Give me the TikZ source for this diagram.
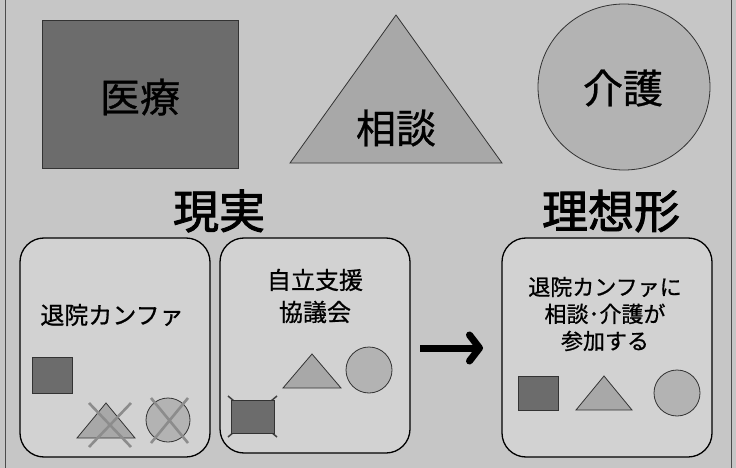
\documentclass[tikz,border=0pt]{standalone}
\usepackage{fontspec}
\newfontfamily\jp[FakeBold=0.8]{Noto Sans CJK JP}
\newfontfamily\jpb[FakeBold=2]{Noto Sans CJK JP}
\usetikzlibrary{arrows.meta}
\definecolor{bg}{HTML}{C6C6C6}
\definecolor{boxfill}{HTML}{D2D2D2}
\definecolor{dark}{HTML}{6C6C6C}
\definecolor{trifill}{HTML}{A8A8A8}
\definecolor{circfill}{HTML}{B3B3B3}
\definecolor{crossc}{HTML}{8C8C8C}
\tikzset{
  sq/.style={fill=dark, draw=black!80, line width=0.8pt},
  tri/.style={fill=trifill, draw=black!80, line width=0.8pt},
  circ/.style={fill=circfill, draw=black!80, line width=0.8pt},
  panel/.style={fill=boxfill, draw=black, line width=1.3pt, rounded corners=24pt},
  xmark/.style={draw=crossc, line width=2.6pt},
  bigtxt/.style={font=\jp\fontsize{40}{44}\selectfont, inner sep=0pt},
  titletxt/.style={font=\jpb\fontsize{46}{50}\selectfont, inner sep=0pt},
  boxtxt/.style={font=\jp\fontsize{24}{32}\selectfont, inner sep=0pt, align=center},
}
\begin{document}
\begin{tikzpicture}[x=1pt,y=-1pt]
\useasboundingbox (0,0) rectangle (736,468);
\fill[bg] (0,0) rectangle (736,468);
\draw[black!70, line width=0.8pt] (5,0) -- (5,468) (731,0) -- (731,468);

% top row
\draw[sq] (42,20) rectangle (238,168);
\node[bigtxt] (iryo) at (140,97) {医療};
\draw[tri] (290,163) -- (396,15) -- (502,163) -- cycle;
\node[bigtxt] (sodan) at (396,128) {相談};
\draw[circ] (624,87) ellipse (86 and 83);
\node[bigtxt] (kaigo) at (623,88) {介護};

% titles
\node[titletxt] (genjitsu) at (219,211) {現実};
\node[titletxt] (riso) at (611,211) {理想形};

% panel 1
\draw[panel] (20,238) rectangle (210,457);
\node[boxtxt] (p1) at (112,315) {退院カンファ};
\draw[sq] (32,357) rectangle (72,393);
\draw[tri] (77,438) -- (106,403) -- (135,438) -- cycle;
\draw[xmark] (89,403) -- (131,447) (131,403) -- (89,447);
\draw[circ] (168,420) circle (22);
\draw[xmark] (151,398) -- (188,443) (188,398) -- (151,443);

% panel 2
\draw[panel] (220,238) rectangle (410,453);
\node[boxtxt] (p2) at (315,296) {自立支援\\協議会};
\draw[tri] (283,388) -- (312,354) -- (341,388) -- cycle;
\draw[circ] (369,370) circle (23);
\draw[black!75, line width=1.5pt] (228,396) -- (277,437) (277,396) -- (228,437);
\draw[sq] (231,400) rectangle (274,433);

% arrow
\coordinate (a1) at (420,348);
\coordinate (a2) at (483,348);
\draw[-{Straight Barb[round,length=10pt,width=26pt]}, line width=7pt] (a1) -- (a2);

% panel 3
\draw[panel] (502,238) rectangle (712,457);
\node[boxtxt, font=\jp\fontsize{22}{27}\selectfont] (p3) at (605,314) {退院カンファに\\相談･介護が\\参加する};
\draw[sq] (518,376) rectangle (558,410);
\draw[tri] (576,410) -- (604,376) -- (632,410) -- cycle;
\draw[circ] (677,393) circle (23);
\end{tikzpicture}
\end{document}
